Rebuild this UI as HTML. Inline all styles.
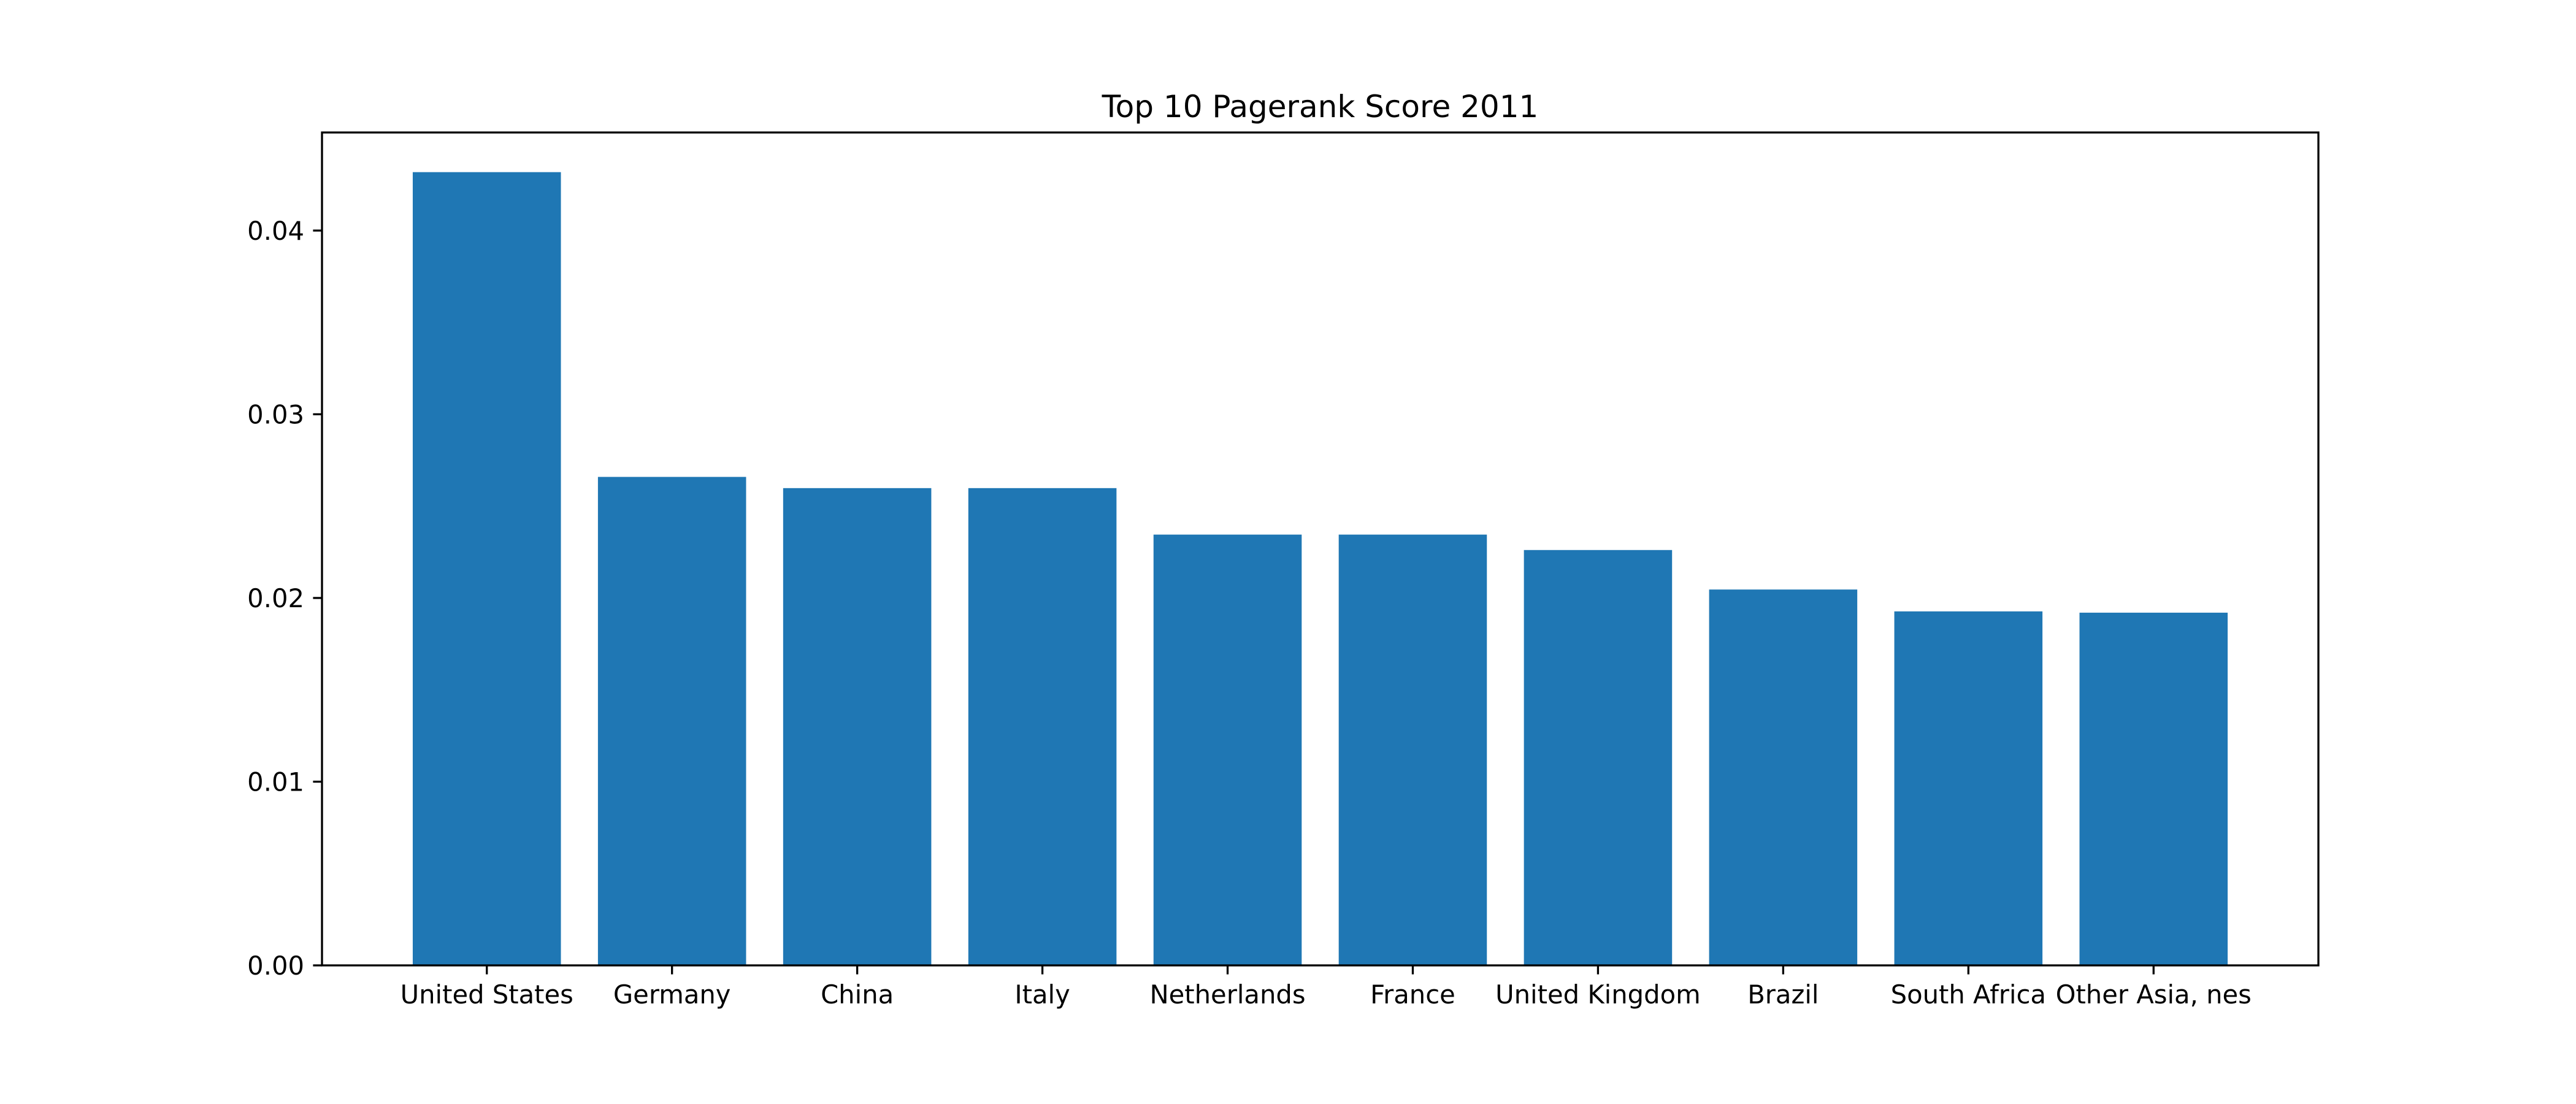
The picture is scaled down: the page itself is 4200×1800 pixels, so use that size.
<!DOCTYPE html>
<html><head><meta charset="utf-8"><style>
html,body{margin:0;padding:0;background:#fff;}
svg{display:block;}
text{font-family:"DejaVu Sans","Liberation Sans",sans-serif;fill:#000;}
</style></head><body>
<svg id="chart" width="4200" height="1800" viewBox="0 0 4200 1800" xmlns="http://www.w3.org/2000/svg">
<rect width="4200" height="1800" fill="#fff"/>
<g id="plot"></g>
</svg>
<script>
const categories = ["United States","Germany","China","Italy","Netherlands","France","United Kingdom","Brazil","South Africa","Other Asia, nes"];
const values = [0.04318,0.02659,0.02598,0.02598,0.02345,0.02345,0.02261,0.02046,0.01927,0.01920];
const yTicks = [0, 0.01, 0.02, 0.03, 0.04];
const yTickLabels = ["0.00","0.01","0.02","0.03","0.04"];
const title = "Top 10 Pagerank Score 2011";

const L=525, R=3780, T=216, B=1574;
const NS="http://www.w3.org/2000/svg";
const g=document.getElementById('plot');
const n=categories.length, bw=0.8;
const xmin=-bw/2-0.05*(n-1+bw), xmax=n-1+bw/2+0.05*(n-1+bw);
const ymax=Math.max(...values)*1.05;
const xs=v=>L+(v-xmin)/(xmax-xmin)*(R-L);
const ys=v=>B-v/ymax*(B-T);
function mk(tag,attrs){const e=document.createElementNS(NS,tag);for(const k in attrs)e.setAttribute(k,attrs[k]);g.appendChild(e);return e;}

values.forEach((v,i)=>{
  const r=mk('rect',{x:xs(i-bw/2),y:ys(v),width:xs(i+bw/2)-xs(i-bw/2),height:ys(0)-ys(v),fill:'#1f77b4'});
  
  
});
// spines
const sp=mk('rect',{x:L,y:T,width:R-L,height:B-T,fill:'none',stroke:'#000','stroke-width':3.3});


// x ticks
categories.forEach((c,i)=>{
  const x=xs(i);
  const tk=mk('line',{x1:x,x2:x,y1:B,y2:B+14.6,stroke:'#000','stroke-width':3.3});
  
  
  const t=mk('text',{x:x,y:B+62,'text-anchor':'middle','font-size':41.7});
  t.textContent=c;
  
  
});
// y ticks
yTicks.forEach((v,i)=>{
  const y=ys(v);
  const tk=mk('line',{x1:L-14.6,x2:L,y1:y,y2:y,stroke:'#000','stroke-width':3.3});
  
  
  const t=mk('text',{x:L-29,y:y+15,'text-anchor':'end','font-size':41.7});
  t.textContent=yTickLabels[i];
  
  
});
const tt=mk('text',{x:(L+R)/2,y:T-25,'text-anchor':'middle','font-size':50});
tt.textContent=title;


</script>
</body></html>
